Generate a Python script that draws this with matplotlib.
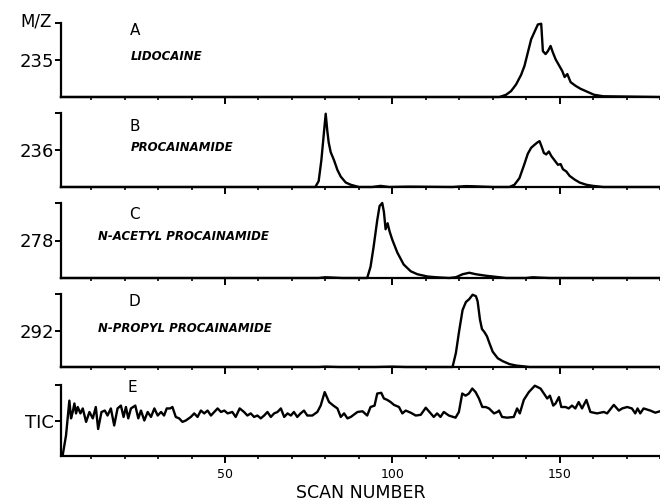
import numpy as np
import matplotlib.pyplot as plt

# ion traces, intensity as fraction of panel height
a_scan = [1, 132, 134, 135.5, 137, 138.5, 139.5, 140.5, 141.5, 142.5, 143.5, 144.5, 145, 145.8, 146.5,
          147.3, 148, 148.8, 149.8, 150.8, 151.5, 152.3, 153.3, 154.8, 156.3, 158.3, 160.3, 163, 180]
a_int = [0, 0, 0.03, 0.08, 0.17, 0.30, 0.42, 0.60, 0.78, 0.88, 0.98, 0.99, 0.62, 0.58, 0.62,
         0.69, 0.60, 0.51, 0.43, 0.35, 0.27, 0.31, 0.20, 0.15, 0.11, 0.07, 0.03, 0.01, 0]

b_scan = [1, 77, 78, 78.8, 79.5, 80.1, 80.6, 81, 81.6, 82.6, 83.6, 84.6, 86.1, 87.6, 90, 94, 96.5, 99,
          105, 118, 122, 124, 130, 135, 136.5, 138, 139.4, 140.5, 141.5, 142.5, 143.3, 144, 144.6,
          145.3, 146, 146.8, 147.5, 148.5, 149.5, 150.3, 151, 152, 153, 154.5, 156, 158, 160, 163, 180]
b_int = [0, 0, 0.08, 0.36, 0.7, 0.99, 0.75, 0.6, 0.47, 0.36, 0.23, 0.14, 0.06, 0.03, 0, 0, 0.015, 0,
         0.005, 0, 0.012, 0.01, 0, 0, 0.03, 0.12, 0.3, 0.45, 0.53, 0.57, 0.6, 0.62, 0.55,
         0.46, 0.44, 0.48, 0.42, 0.36, 0.30, 0.31, 0.24, 0.21, 0.15, 0.10, 0.06, 0.03, 0.015, 0, 0]

c_scan = [1, 78, 80, 85, 92.5, 93.5, 94.4, 95.5, 96.2, 97, 97.5, 98, 98.6, 99.2, 100, 101.5, 103.4,
          105.5, 107.5, 110.5, 113, 117, 119, 121, 123, 125, 128, 131, 134, 140, 142, 144, 147, 180]
c_int = [0, 0, 0.01, 0, 0, 0.15, 0.41, 0.77, 0.96, 1.0, 0.88, 0.65, 0.73, 0.62, 0.51, 0.34, 0.18,
         0.09, 0.05, 0.02, 0.01, 0, 0.01, 0.05, 0.07, 0.05, 0.03, 0.015, 0, 0, 0.01, 0.005, 0, 0]

d_scan = [1, 78, 80, 84, 95, 100, 104, 118, 119, 120, 121, 122, 123, 124, 125, 125.5, 126.2, 126.8,
          127.5, 128.3, 129, 130, 131.5, 133, 135, 137, 139, 141, 180]
d_int = [0, 0, 0.005, 0, 0, 0.005, 0, 0, 0.19, 0.5, 0.78, 0.89, 0.93, 0.99, 0.97, 0.9, 0.65, 0.52,
         0.48, 0.42, 0.33, 0.21, 0.12, 0.08, 0.04, 0.02, 0.01, 0, 0]

# total ion current
e_scan = [1.5, 2.5, 3.0, 3.5, 4.0, 4.5, 5.0, 5.5, 6.0, 6.8, 7.5, 8.5, 9.5, 10.5, 11.4, 12.1, 13.1,
          14.1, 14.9, 15.9, 16.9, 17.9, 18.9, 19.7, 20.4, 21.1, 21.9, 23.2, 24.1, 24.9, 25.9, 26.9,
          27.9, 28.9, 29.9, 30.9, 31.8, 32.6, 33.6, 34.3, 35.3, 36.3, 37.3, 38.3, 39.8, 40.8, 41.8,
          42.8, 43.8, 44.8, 45.8, 46.8, 47.8, 48.8, 49.8, 50.8, 52.2, 53.2, 54.4, 55.7, 56.7, 57.7,
          58.7, 59.7, 60.7, 61.7, 62.7, 63.7, 64.7, 65.7, 66.7, 67.7, 68.7, 69.7, 70.6, 71.6, 72.6,
          73.6, 74.6, 76.1, 77.6, 78.6, 79.8, 81.1, 82.4, 83.6, 84.6, 85.6, 86.6, 87.6, 89.6, 91.1,
          92.5, 93.5, 94.7, 95.5, 96.7, 97.5, 98.5, 99.5, 100.5, 102.0, 103.0, 104.0, 105.5, 107.0,
          108.5, 110.0, 111.5, 112.4, 113.4, 114.4, 115.4, 116.9, 118.9, 119.9, 120.9, 121.9, 122.9,
          123.9, 124.9, 125.9, 126.9, 127.9, 128.9, 130.4, 131.4, 131.9, 132.8, 134.3, 136.3, 137.3,
          138.1, 139.3, 140.8, 142.6, 144.3, 145.3, 146.3, 147.1, 148.1, 148.8, 149.8, 150.5, 151.8,
          152.7, 153.7, 154.7, 155.7, 156.7, 158.0, 159.2, 161.2, 163.2, 164.2, 166.2, 167.7, 168.7,
          170.2, 171.6, 172.6, 173.3, 174.1, 175.1, 177.1, 178.6, 180.0]
e_int = [0.01, 0.29, 0.53, 0.78, 0.53, 0.62, 0.74, 0.60, 0.69, 0.60, 0.67, 0.48, 0.62, 0.53, 0.69,
         0.38, 0.62, 0.64, 0.57, 0.67, 0.43, 0.67, 0.71, 0.55, 0.69, 0.53, 0.67, 0.71, 0.53, 0.64,
         0.50, 0.62, 0.55, 0.67, 0.57, 0.62, 0.57, 0.67, 0.67, 0.69, 0.55, 0.53, 0.48, 0.50, 0.55,
         0.60, 0.55, 0.64, 0.60, 0.64, 0.57, 0.62, 0.67, 0.62, 0.64, 0.60, 0.62, 0.55, 0.67, 0.62,
         0.57, 0.60, 0.55, 0.57, 0.53, 0.57, 0.62, 0.55, 0.60, 0.62, 0.67, 0.55, 0.60, 0.57, 0.62,
         0.55, 0.60, 0.64, 0.57, 0.57, 0.62, 0.71, 0.90, 0.76, 0.71, 0.67, 0.55, 0.60, 0.53, 0.55,
         0.62, 0.63, 0.57, 0.69, 0.71, 0.88, 0.89, 0.81, 0.79, 0.76, 0.72, 0.69, 0.60, 0.64, 0.61,
         0.57, 0.58, 0.68, 0.60, 0.55, 0.60, 0.55, 0.62, 0.57, 0.54, 0.62, 0.88, 0.85, 0.88, 0.95,
         0.90, 0.81, 0.69, 0.69, 0.67, 0.60, 0.62, 0.64, 0.55, 0.54, 0.55, 0.67, 0.60, 0.79, 0.90,
         0.99, 0.95, 0.88, 0.81, 0.85, 0.71, 0.74, 0.83, 0.69, 0.69, 0.67, 0.71, 0.67, 0.76, 0.67,
         0.79, 0.62, 0.60, 0.62, 0.60, 0.72, 0.64, 0.67, 0.69, 0.67, 0.60, 0.67, 0.60, 0.67, 0.64,
         0.61, 0.63]

panels = [
    (a_scan, a_int, "235", "A", "LIDOCAINE", 21.6, 21.9, 0.90, 0.55),
    (b_scan, b_int, "236", "B", "PROCAINAMIDE", 21.6, 21.9, 0.82, 0.54),
    (c_scan, c_int, "278", "C", "N-ACETYL PROCAINAMIDE", 21.3, 12.0, 0.84, 0.55),
    (d_scan, d_int, "292", "D", "N-PROPYL PROCAINAMIDE", 21.3, 12.0, 0.90, 0.53),
    (e_scan, e_int, "TIC", "E", "", 21.0, 0, 0.96, 0),
]
bottoms_px = [97, 187, 278, 367, 456]
heights_px = [74, 74, 75, 73, 71]

W, H = 660, 503
fig = plt.figure(figsize=(W / 100, H / 100), dpi=100)
plt.rcParams['font.family'] = ['DejaVu Sans']

for i, (xs, ys, ylab, letter, name, lx, nx, ly, ny) in enumerate(panels):
    ax = fig.add_axes([61 / W, 1 - bottoms_px[i] / H, 1 - 61 / W, heights_px[i] / H])
    ax.plot(xs, ys, color='black', lw=1.7, clip_on=False)
    ax.set_xlim(1, 180)
    ax.set_ylim(0, 1)
    for s in ['top', 'right']:
        ax.spines[s].set_visible(False)
    for s in ['left', 'bottom']:
        ax.spines[s].set_linewidth(1.6)
    ax.set_yticks([0.5, 1.0])
    ax.set_yticklabels([ylab, ""], fontsize=13)
    ax.tick_params(axis='y', length=4, width=1.4, pad=1)
    ax.set_xticks([50, 100, 150])
    ax.set_xticks(np.arange(10, 181, 10), minor=True)
    ax.tick_params(axis='x', which='major', length=5, width=1.4, labelsize=9, pad=4)
    ax.tick_params(axis='x', which='minor', length=2.5, width=1.2)
    if i < 4:
        ax.set_xticklabels([])
    else:
        ax.set_xlabel("SCAN NUMBER", fontsize=12.5, labelpad=2)
    ax.text(lx, ly, letter, transform=ax.get_xaxis_transform(), fontsize=11, va='center', ha='left')
    if name:
        ax.text(nx, ny, name, transform=ax.get_xaxis_transform(), fontsize=8.5, style='italic',
                weight='semibold', va='center', ha='left')

fig.text(52 / W, 1 - 21 / H, "M/Z", fontsize=12, ha='right', va='center')

fig.savefig("out.png", dpi=100)
